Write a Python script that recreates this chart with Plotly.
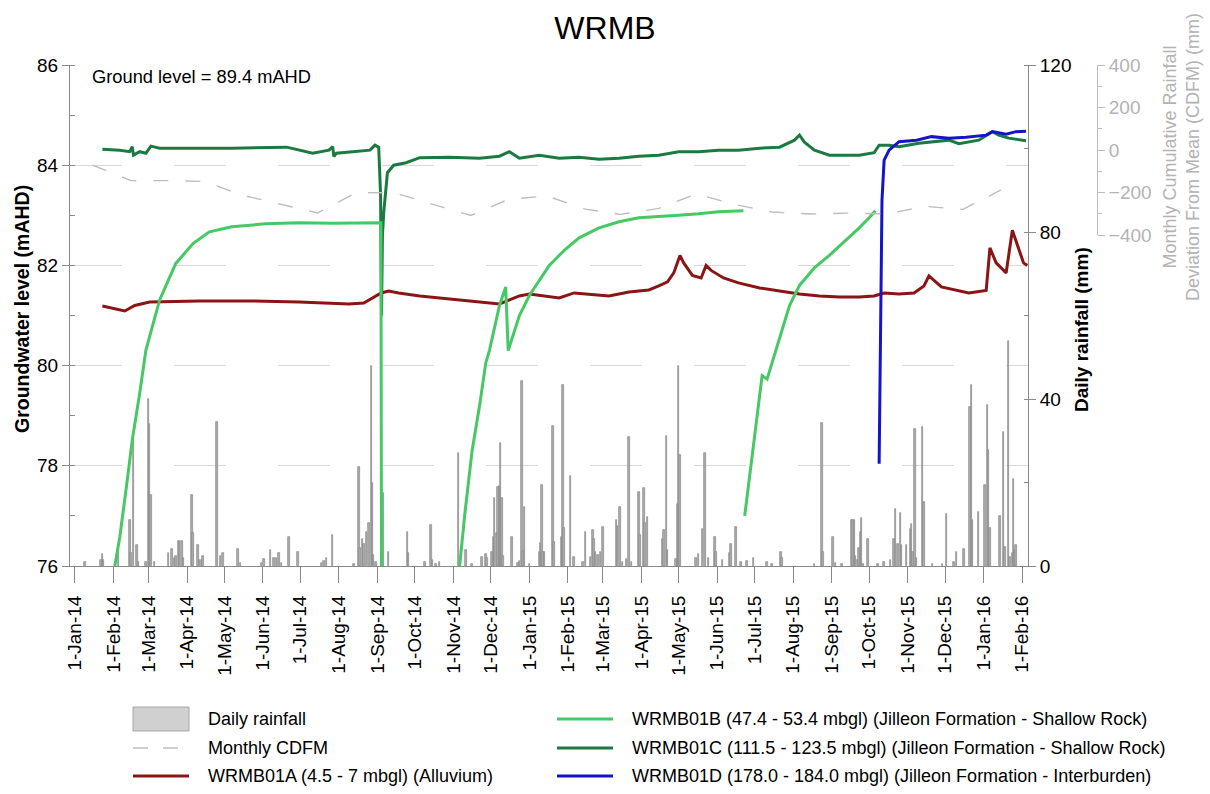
import plotly.graph_objects as go

# ------------------------------------------------------------------ data
rain_dates = [
    "2014-01-09", "2014-01-22", "2014-01-23", "2014-01-24", "2014-02-05", "2014-02-14", "2014-02-15",
    "2014-02-17", "2014-02-20", "2014-02-21", "2014-02-27", "2014-03-01", "2014-03-02", "2014-03-03",
    "2014-03-06", "2014-03-17", "2014-03-20", "2014-03-22", "2014-03-23", "2014-03-25", "2014-03-26",
    "2014-03-28", "2014-03-29", "2014-04-05", "2014-04-06", "2014-04-10", "2014-04-11", "2014-04-13",
    "2014-04-14", "2014-04-25", "2014-04-28", "2014-04-30", "2014-05-12", "2014-05-14", "2014-05-31",
    "2014-06-02", "2014-06-07", "2014-06-10", "2014-06-12", "2014-06-14", "2014-06-16", "2014-06-22",
    "2014-06-29", "2014-07-18", "2014-07-20", "2014-07-22", "2014-07-27", "2014-08-13", "2014-08-17",
    "2014-08-18", "2014-08-20", "2014-08-21", "2014-08-23", "2014-08-25", "2014-08-27", "2014-08-28",
    "2014-08-29", "2014-08-31", "2014-09-06", "2014-09-10", "2014-09-25", "2014-09-26", "2014-10-09",
    "2014-10-14", "2014-10-15", "2014-10-18", "2014-10-21", "2014-11-05", "2014-11-11", "2014-11-16",
    "2014-11-24", "2014-11-27", "2014-11-28", "2014-12-02", "2014-12-03", "2014-12-04", "2014-12-06",
    "2014-12-07", "2014-12-08", "2014-12-09", "2014-12-10", "2014-12-11", "2014-12-18", "2014-12-23",
    "2014-12-24", "2014-12-26", "2014-12-27", "2014-12-28", "2015-01-01", "2015-01-09", "2015-01-10",
    "2015-01-11", "2015-01-12", "2015-01-13", "2015-01-20", "2015-01-21", "2015-01-27", "2015-01-28",
    "2015-01-29", "2015-02-03", "2015-02-06", "2015-02-13", "2015-02-15", "2015-02-19", "2015-02-21",
    "2015-02-22", "2015-02-23", "2015-02-25", "2015-02-27", "2015-03-01", "2015-03-12", "2015-03-13",
    "2015-03-15", "2015-03-17", "2015-03-20", "2015-03-22", "2015-03-24", "2015-03-30", "2015-03-31",
    "2015-04-03", "2015-04-04", "2015-04-06", "2015-04-18", "2015-04-19", "2015-04-21", "2015-04-22",
    "2015-04-29", "2015-04-30", "2015-05-01", "2015-05-02", "2015-05-15", "2015-05-17", "2015-05-20",
    "2015-05-22", "2015-05-25", "2015-05-30", "2015-05-31", "2015-06-05", "2015-06-11", "2015-06-12",
    "2015-06-16", "2015-06-20", "2015-06-25", "2015-06-30", "2015-07-11", "2015-07-15", "2015-07-22",
    "2015-07-23", "2015-08-18", "2015-08-24", "2015-08-25", "2015-09-02", "2015-09-04", "2015-09-09",
    "2015-09-17", "2015-09-18", "2015-09-19", "2015-09-20", "2015-09-22", "2015-09-23", "2015-09-24",
    "2015-09-25", "2015-09-26", "2015-09-30", "2015-10-08", "2015-10-13", "2015-10-18", "2015-10-21",
    "2015-10-22", "2015-10-24", "2015-10-26", "2015-10-27", "2015-10-31", "2015-11-03", "2015-11-04",
    "2015-11-05", "2015-11-07", "2015-11-08", "2015-11-13", "2015-11-14", "2015-11-21", "2015-11-29",
    "2015-12-02", "2015-12-08", "2015-12-10", "2015-12-16", "2015-12-21", "2015-12-22", "2015-12-23",
    "2015-12-28", "2016-01-02", "2016-01-04", "2016-01-05", "2016-01-06", "2016-01-14", "2016-01-17",
    "2016-01-18", "2016-01-21", "2016-01-22", "2016-01-24", "2016-01-25", "2016-01-26", "2016-01-27",
]
rain_mm = [
    1.0, 1.5, 2.9, 1.5, 4.0, 11.0, 3.0,
    30.6, 5.0, 1.0, 1.0, 40.0, 34.0, 17.0,
    1.0, 3.0, 4.0, 2.0, 2.5, 6.0, 6.0,
    6.0, 2.0, 17.0, 8.0, 5.0, 1.5, 1.5,
    2.4, 34.6, 2.5, 3.0, 4.0, 0.8, 0.8,
    1.6, 3.8, 2.0, 2.0, 3.2, 0.8, 7.0,
    3.4, 0.8, 1.3, 2.0, 7.4, 0.5, 23.6,
    4.2, 6.4, 5.3, 8.2, 10.2, 48.0, 20.0,
    2.6, 1.0, 17.4, 3.4, 8.2, 3.0, 1.0,
    9.8, 1.5, 0.6, 1.0, 27.0, 3.8, 0.5,
    2.2, 2.9, 1.8, 3.4, 6.9, 16.2, 8.0,
    19.0, 19.2, 29.5, 16.2, 2.4, 6.9, 0.8,
    1.3, 44.2, 3.7, 14.2, 0.6, 3.4, 5.4,
    19.4, 3.4, 3.4, 33.6, 5.8, 6.9, 43.4,
    9.0, 21.6, 2.2, 1.0, 8.2, 2.2, 8.6,
    6.4, 3.4, 2.6, 3.4, 9.3, 11.0, 9.6,
    14.2, 1.0, 1.6, 30.8, 1.0, 17.8, 7.4,
    18.8, 10.2, 11.8, 6.4, 8.6, 31.2, 3.8,
    1.6, 14.8, 47.9, 26.5, 2.0, 2.9, 8.9,
    27.1, 1.8, 6.9, 3.4, 1.4, 3.0, 5.2,
    9.3, 1.0, 1.3, 2.0, 1.0, 0.6, 3.4,
    1.8, 0.5, 34.2, 3.4, 7.0, 0.8, 0.6,
    11.0, 11.0, 11.0, 2.4, 1.5, 4.2, 8.2,
    11.4, 0.6, 6.4, 0.6, 1.0, 1.4, 6.4,
    13.7, 5.3, 12.8, 5.0, 5.0, 8.8, 10.0,
    3.4, 32.7, 2.0, 33.2, 15.4, 0.5, 0.6,
    12.5, 1.0, 3.4, 4.0, 38.0, 43.4, 10.9,
    12.9, 19.4, 38.6, 27.8, 9.2, 12.0, 32.2,
    4.6, 54.0, 2.2, 3.0, 20.8, 3.8, 5.0,
]

cdfm_dates = [
    "2014-01-15", "2014-02-15", "2014-03-15", "2014-04-15", "2014-05-15", "2014-06-15", "2014-07-15",
    "2014-08-15", "2014-09-15", "2014-10-15", "2014-11-15", "2014-12-15", "2015-01-15", "2015-02-15",
    "2015-03-15", "2015-04-15", "2015-05-15", "2015-06-15", "2015-07-15", "2015-08-15", "2015-09-15",
    "2015-10-15", "2015-11-15", "2015-12-15", "2016-01-15",
]
cdfm_mm = [
    -71, -144, -144, -148, -212, -256, -296,
    -200, -202, -255, -308, -233, -216, -278,
    -303, -275, -207, -256, -292, -301, -297,
    -301, -265, -280, -188,
]

a_dates = [
    "2014-01-23", "2014-02-02", "2014-02-10", "2014-02-18", "2014-03-02", "2014-04-11", "2014-05-21",
    "2014-06-30", "2014-08-09", "2014-08-21", "2014-08-29", "2014-09-04", "2014-09-10", "2014-09-18",
    "2014-10-05", "2014-10-21", "2014-11-06", "2014-11-22", "2014-12-08", "2014-12-16", "2014-12-24",
    "2015-01-01", "2015-01-13", "2015-01-25", "2015-02-06", "2015-02-18", "2015-03-06", "2015-03-22",
    "2015-04-07", "2015-04-15", "2015-04-22", "2015-04-27", "2015-05-02", "2015-05-05", "2015-05-12",
    "2015-05-19", "2015-05-23", "2015-05-27", "2015-06-06", "2015-06-18", "2015-07-05", "2015-07-21",
    "2015-08-06", "2015-08-22", "2015-09-07", "2015-09-23", "2015-10-05", "2015-10-13", "2015-10-25",
    "2015-11-06", "2015-11-14", "2015-11-18", "2015-11-28", "2015-12-20", "2016-01-03", "2016-01-06",
    "2016-01-11", "2016-01-19", "2016-01-24", "2016-02-02", "2016-02-05",
]
a_level = [
    81.19, 81.13, 81.09, 81.20, 81.27, 81.29, 81.29,
    81.27, 81.23, 81.25, 81.37, 81.45, 81.49, 81.45,
    81.39, 81.35, 81.31, 81.27, 81.23, 81.31, 81.39,
    81.43, 81.39, 81.35, 81.45, 81.43, 81.39, 81.47,
    81.51, 81.59, 81.67, 81.85, 82.20, 82.05, 81.80,
    81.75, 82.00, 81.90, 81.75, 81.65, 81.55, 81.49,
    81.43, 81.39, 81.37, 81.37, 81.39, 81.45, 81.43,
    81.45, 81.59, 81.79, 81.57, 81.45, 81.50, 82.35,
    82.05, 81.85, 82.70, 82.05, 82.00,
]

b_dates = [
    "2014-02-02", "2014-02-06", "2014-02-11", "2014-02-16", "2014-02-22", "2014-02-27", "2014-03-10",
    "2014-03-23", "2014-04-06", "2014-04-19", "2014-05-07", "2014-06-03", "2014-06-30", "2014-07-27",
    "2014-09-03 18:00", "2014-09-04 06:00", "2014-10-01",
    "2014-11-06", "2014-11-10", "2014-11-16", "2014-11-22", "2014-11-27", "2014-11-30", "2014-12-08",
    "2014-12-13", "2014-12-15", "2014-12-20", "2014-12-24", "2015-01-01", "2015-01-09", "2015-01-17",
    "2015-01-29", "2015-02-10", "2015-02-26", "2015-03-14", "2015-03-30", "2015-04-15", "2015-05-01",
    "2015-05-17", "2015-06-02", "2015-06-22", "2015-06-22 12:00",
    "2015-06-23", "2015-07-05", "2015-07-07", "2015-07-11", "2015-07-18", "2015-07-29", "2015-08-06",
    "2015-08-18", "2015-08-30", "2015-09-11", "2015-09-23", "2015-10-01", "2015-10-06",
]
b_level = [
    76.00, 76.58, 77.52, 78.51, 79.45, 80.31, 81.31,
    82.04, 82.44, 82.67, 82.77, 82.83, 82.85, 82.84,
    82.85, 76.00, None,
    76.00, 77.00, 78.30, 79.20, 80.05, 80.31, 81.20,
    81.57, 80.30, 80.70, 81.00, 81.40, 81.70, 82.00,
    82.30, 82.55, 82.75, 82.87, 82.95, 82.97, 83.00,
    83.03, 83.07, 83.09, None,
    77.00, 79.37, 79.80, 79.73, 80.31, 81.20, 81.60,
    81.95, 82.20, 82.47, 82.75, 82.95, 83.09,
]

c_dates = [
    "2014-01-23", "2014-02-06", "2014-02-14", "2014-02-16", "2014-02-17", "2014-02-22", "2014-02-27",
    "2014-03-03", "2014-03-10", "2014-04-11", "2014-05-07", "2014-06-20", "2014-06-30", "2014-07-11",
    "2014-07-24", "2014-07-27", "2014-07-28", "2014-07-30", "2014-08-12", "2014-08-26", "2014-08-30",
    "2014-09-02", "2014-09-03 12:00", "2014-09-04 06:00", "2014-09-05", "2014-09-06", "2014-09-09",
    "2014-09-14", "2014-09-24", "2014-10-05", "2014-10-29", "2014-11-22", "2014-12-08", "2014-12-16",
    "2014-12-24", "2015-01-09", "2015-01-25", "2015-02-10", "2015-02-26", "2015-03-14", "2015-03-30",
    "2015-04-15", "2015-05-01", "2015-05-17", "2015-06-02", "2015-06-18", "2015-07-05", "2015-07-21",
    "2015-08-02", "2015-08-06", "2015-08-10", "2015-08-18", "2015-08-30", "2015-09-23", "2015-10-05",
    "2015-10-09", "2015-10-17", "2015-10-25", "2015-11-10", "2015-11-20", "2015-12-04", "2015-12-12",
    "2015-12-28", "2016-01-08", "2016-01-13", "2016-01-21", "2016-02-04",
]
c_level = [
    84.32, 84.30, 84.27, 84.37, 84.20, 84.27, 84.24,
    84.38, 84.34, 84.34, 84.34, 84.36, 84.30, 84.24,
    84.30, 84.37, 84.17, 84.24, 84.27, 84.30, 84.40,
    84.36, 83.40, 81.00, 82.60, 83.05, 83.85,
    84.00, 84.05, 84.15, 84.16, 84.14, 84.18, 84.27,
    84.14, 84.20, 84.14, 84.16, 84.12, 84.14, 84.18,
    84.20, 84.27, 84.27, 84.30, 84.30, 84.34, 84.36,
    84.50, 84.60, 84.46, 84.30, 84.20, 84.20, 84.25,
    84.40, 84.40, 84.37, 84.44, 84.47, 84.50, 84.43,
    84.50, 84.67, 84.60, 84.54, 84.49,
]

d_dates = [
    "2015-10-09", "2015-10-10 02:00", "2015-10-11 07:00", "2015-10-13", "2015-10-17", "2015-10-25",
    "2015-11-08", "2015-11-20", "2015-12-04", "2015-12-18", "2016-01-03", "2016-01-08", "2016-01-19",
    "2016-01-27", "2016-02-04",
]
d_level = [
    78.04, 81.30, 83.30, 84.10, 84.30, 84.47,
    84.50, 84.57, 84.54, 84.56, 84.60, 84.67, 84.62,
    84.67, 84.68,
]

# ------------------------------------------------------------------ styling
FONT = "Arial, 'Liberation Sans', sans-serif"
C_RAIN_FILL = "#ababab"
C_RAIN_LINE = "#8a8a8a"
C_CDFM = "#bdbdbd"
C_A = "#8b1414"
C_B = "#46c864"
C_C = "#1c7a40"
C_D = "#1414c8"
AXIS_GRAY = "#8a8a8a"
X_RANGE = ["2013-12-28", "2016-02-05 14:00"]

W, H = 1210, 794
L, R, T, B = 70, 100, 65, 228
PW, PH = W - L - R, H - T - B


def px(x):
    return (x - L) / PW


def py(y):
    return (H - B - y) / PH


fig = go.Figure()

fig.add_trace(go.Bar(
    x=rain_dates, y=rain_mm, name="Daily rainfall", xaxis="x", yaxis="y",
    width=86400000 * 1.2,
    marker=dict(color=C_RAIN_FILL, line=dict(color=C_RAIN_LINE, width=0.7)),
    showlegend=False,
))
fig.add_trace(go.Scatter(
    x=a_dates, y=a_level, name="WRMB01A (4.5 - 7 mbgl) (Alluvium)", mode="lines",
    xaxis="x", yaxis="y2", line=dict(color=C_A, width=3), showlegend=False,
))
fig.add_trace(go.Scatter(
    x=c_dates, y=c_level, name="WRMB01C (111.5 - 123.5 mbgl) (Jilleon Formation - Shallow Rock)",
    mode="lines", xaxis="x", yaxis="y2", line=dict(color=C_C, width=3), showlegend=False,
))
fig.add_trace(go.Scatter(
    x=b_dates, y=b_level, name="WRMB01B (47.4 - 53.4 mbgl) (Jilleon Formation - Shallow Rock)",
    mode="lines", xaxis="x", yaxis="y2", line=dict(color=C_B, width=3), connectgaps=False,
    showlegend=False,
))
fig.add_trace(go.Scatter(
    x=d_dates, y=d_level, name="WRMB01D (178.0 - 184.0 mbgl) (Jilleon Formation - Interburden)",
    mode="lines", xaxis="x", yaxis="y2", line=dict(color=C_D, width=3), showlegend=False,
))
fig.add_trace(go.Scatter(
    x=cdfm_dates, y=cdfm_mm, name="Monthly CDFM", mode="lines", xaxis="x2", yaxis="y3",
    line=dict(color=C_CDFM, width=1.4, dash="15px,17px"), showlegend=False,
))

tickfont = dict(family=FONT, size=19, color="#000000")

fig.update_layout(
    width=W, height=H, autosize=False,
    margin=dict(l=L, r=R, t=T, b=B, pad=0),
    paper_bgcolor="white", plot_bgcolor="rgba(0,0,0,0)",
    font=dict(family=FONT, size=18, color="#000000"),
    showlegend=False,
    bargap=0,
    title=dict(text="WRMB", x=(605) / W, xanchor="center", xref="container",
               y=1 - 28 / H, yanchor="middle", yref="container",
               font=dict(family=FONT, size=32, color="#000000")),
    xaxis=dict(
        type="date", domain=[0, px(1028)], anchor="y",
        range=X_RANGE,
        tick0="2014-01-01", dtick="M1", tickformat="%-d-%b-%y", tickangle=-90,
        ticks="outside", ticklen=16, tickcolor=AXIS_GRAY, tickwidth=1, ticklabelstandoff=5,
        showline=True, linecolor=AXIS_GRAY, linewidth=1, showgrid=False, zeroline=False,
        tickfont=tickfont,
    ),
    xaxis2=dict(
        type="date", domain=[0, px(1028)], anchor="y3", range=X_RANGE,
        visible=False, showgrid=False, zeroline=False,
    ),
    yaxis=dict(
        side="right", range=[0, 120], tick0=0, dtick=40, anchor="x",
        ticks="outside", ticklen=7, tickcolor=AXIS_GRAY,
        minor=dict(ticks="inside", dtick=20, ticklen=4, tickcolor=AXIS_GRAY, showgrid=False),
        showline=True, linecolor=AXIS_GRAY, linewidth=1, showgrid=False, zeroline=False,
        tickfont=tickfont,
    ),
    yaxis2=dict(
        overlaying="y", side="left", anchor="x", range=[76, 86], tick0=76, dtick=2,
        ticks="outside", ticklen=7, tickcolor=AXIS_GRAY,
        minor=dict(ticks="inside", dtick=1, ticklen=5, tickcolor=AXIS_GRAY, showgrid=False),
        showline=True, linecolor=AXIS_GRAY, linewidth=1,
        showgrid=True, gridcolor="#d9d9d9", gridwidth=1, griddash="52px,52px",
        zeroline=False, tickfont=tickfont,
    ),
    yaxis3=dict(
        anchor="free", position=px(1097), side="right", domain=[py(235), 1],
        range=[-400, 400], tick0=-400, dtick=200,
        ticks="outside", ticklen=7, tickcolor=C_CDFM,
        minor=dict(ticks="outside", dtick=100, ticklen=4, tickcolor=C_CDFM, showgrid=False),
        showline=True, linecolor=C_CDFM, linewidth=1, showgrid=False, zeroline=False,
        tickfont=dict(family=FONT, size=19, color="#b3b3b3"),
    ),
)

annotations = [
    dict(text="Ground level = 89.4 mAHD", x=px(90), y=py(77), xanchor="left", yanchor="middle",
         font=dict(family=FONT, size=18.3, color="#000000")),
    dict(text="<b>Groundwater level (mAHD)</b>", x=px(22), y=py(309), textangle=-90,
         xanchor="center", yanchor="middle", font=dict(family=FONT, size=19.5, color="#000000")),
    dict(text="<b>Daily rainfall (mm)</b>", x=px(1081), y=py(330), textangle=-90,
         xanchor="center", yanchor="middle", font=dict(family=FONT, size=19, color="#000000")),
    dict(text="Monthly Cumulative Rainfall<br>Deviation From Mean (CDFM) (mm)", x=px(1181), y=py(157),
         textangle=-90, xanchor="center", yanchor="middle",
         font=dict(family=FONT, size=18, color="#b3b3b3")),
]

# legend (drawn below the chart, two columns)
legend_rows = [719, 748, 776]
legend_items = [
    ("Daily rainfall", "bar", 133, 0),
    ("Monthly CDFM", "dash", 133, 1),
    ("WRMB01A (4.5 - 7 mbgl) (Alluvium)", C_A, 133, 2),
    ("WRMB01B (47.4 - 53.4 mbgl) (Jilleon Formation - Shallow Rock)", C_B, 557, 0),
    ("WRMB01C (111.5 - 123.5 mbgl) (Jilleon Formation - Shallow Rock)", C_C, 557, 1),
    ("WRMB01D (178.0 - 184.0 mbgl) (Jilleon Formation - Interburden)", C_D, 557, 2),
]
shapes = []
for label, kind, x0, row in legend_items:
    yc = legend_rows[row]
    if kind == "bar":
        shapes.append(dict(type="rect", xref="paper", yref="paper", x0=px(x0), x1=px(x0 + 56),
                           y0=py(yc - 12), y1=py(yc + 12), fillcolor="#d0d0d0",
                           line=dict(color="#a8a8a8", width=1)))
    elif kind == "dash":
        shapes.append(dict(type="line", xref="paper", yref="paper", x0=px(x0), x1=px(x0 + 56),
                           y0=py(yc), y1=py(yc), line=dict(color=C_CDFM, width=1.4, dash="15px,15px")))
    else:
        shapes.append(dict(type="line", xref="paper", yref="paper", x0=px(x0), x1=px(x0 + 56),
                           y0=py(yc), y1=py(yc), line=dict(color=kind, width=3)))
    annotations.append(dict(text=label, x=px(x0 + 73), y=py(yc), xanchor="left", yanchor="middle",
                            font=dict(family=FONT, size=18, color="#000000")))

for a in annotations:
    a.update(xref="paper", yref="paper", showarrow=False)

fig.update_layout(annotations=annotations, shapes=shapes)

fig.write_html("out.html")
